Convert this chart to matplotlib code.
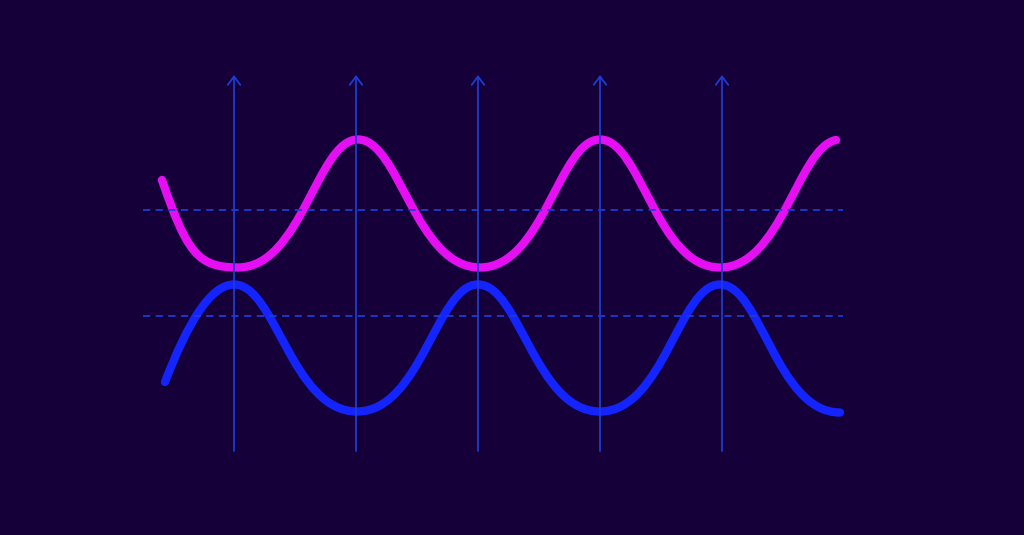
import matplotlib
matplotlib.use("Agg")
import matplotlib.pyplot as plt
from matplotlib.path import Path
from matplotlib.patches import PathPatch

# ---- data: key points of each wave (x, y with y growing downward) and the
# ---- slope (dy/dx) of the wave read at each key point
magenta_x = [162, 238, 358, 480, 600, 720, 836]
magenta_y = [180, 267.5, 139.5, 267.5, 139.5, 267.5, 140]
magenta_slope = [2.9, 0, 0, 0, 0, 0, -0.2]

blue_x = [165, 234, 357, 478, 600, 720, 840]
blue_y = [382, 284.5, 411.5, 284.5, 411.5, 284.5, 412.5]
blue_slope = [-2.6, 0, 0, 0, 0, 0, 0]

marker_x = [234, 356, 478, 600, 722]
marker_bottom = 451
marker_top = 75
level_y = [210, 316]
level_start = 143
level_end = 843

BG = "#16003a"
GRID = "#1e3bd2"
MAGENTA = "#e60ef2"
BLUE = "#1424ff"
K_TOP = 0.34      # handle length at crests (sharper)
K_BOTTOM = 0.53   # handle length at troughs (flatter)
K_END = 0.33


def wave_path(xs, ys, slopes):
    n = len(xs)

    def k_of(i):
        if i == 0:
            return K_END
        if i == n - 1:
            return K_END if slopes[i] != 0 else K_BOTTOM
        # y grows downward: a smaller y than neighbours is a crest
        return K_TOP if ys[i] < ys[i - 1] else K_BOTTOM

    verts = [(xs[0], ys[0])]
    codes = [Path.MOVETO]
    for i in range(n - 1):
        dx = xs[i + 1] - xs[i]
        h1 = k_of(i) * dx
        h2 = k_of(i + 1) * dx
        c1 = (xs[i] + h1, ys[i] + slopes[i] * h1)
        c2 = (xs[i + 1] - h2, ys[i + 1] - slopes[i + 1] * h2)
        verts += [c1, c2, (xs[i + 1], ys[i + 1])]
        codes += [Path.CURVE4] * 3
    return Path(verts, codes)


fig = plt.figure(figsize=(10.24, 5.35), dpi=100, facecolor=BG)
ax = fig.add_axes([0, 0, 1, 1])
ax.set_facecolor(BG)
ax.set_xlim(0, 1024)
ax.set_ylim(535, 0)
ax.axis("off")

for x in marker_x:
    ax.annotate("", xy=(x, marker_top), xytext=(x, marker_bottom),
                arrowprops=dict(arrowstyle="->,head_length=0.6,head_width=0.45",
                                mutation_scale=10, lw=1.3, color=GRID,
                                shrinkA=0, shrinkB=0))

for y in level_y:
    ax.plot([level_start, level_end], [y, y], color=GRID, lw=1.3,
            dashes=(4, 3), solid_capstyle="butt")

for xs, ys, sl, col in [(magenta_x, magenta_y, magenta_slope, MAGENTA),
                        (blue_x, blue_y, blue_slope, BLUE)]:
    patch = PathPatch(wave_path(xs, ys, sl), facecolor="none", edgecolor=col,
                      lw=6.0, capstyle="round", joinstyle="round")
    ax.add_patch(patch)

fig.savefig("out.png", dpi=100, facecolor=BG)
